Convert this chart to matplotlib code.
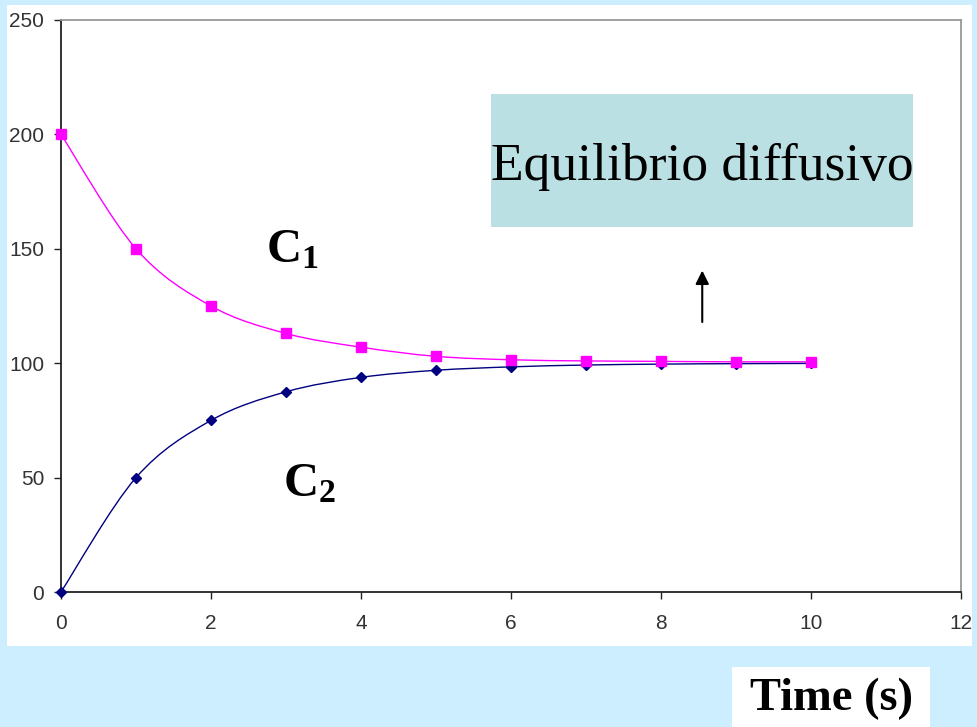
import matplotlib
matplotlib.use('Agg')
import matplotlib.pyplot as plt
from matplotlib.path import Path
from matplotlib.patches import PathPatch, Rectangle
import numpy as np

plt.rcParams['mathtext.fontset'] = 'custom'
plt.rcParams['mathtext.rm'] = 'Liberation Serif'
plt.rcParams['mathtext.bf'] = 'Liberation Serif:bold'

# data
time_s = [0, 1, 2, 3, 4, 5, 6, 7, 8, 9, 10]
c1 = [200, 150, 125, 113, 107, 103, 101.5, 101, 100.8, 100.6, 100.6]
c2 = [0, 50, 75, 87.5, 93.8, 96.9, 98.4, 99.2, 99.6, 99.8, 99.9]
xticks = [0, 2, 4, 6, 8, 10, 12]
yticks = [0, 50, 100, 150, 200, 250]

bg = '#cdeeff'
pink = '#ff00ff'
navy = '#000080'


def smooth_path(x, y):
    # Excel-like smoothed line: Catmull-Rom segments as cubic Bezier
    x = np.asarray(x, float)
    y = np.asarray(y, float)
    px = np.concatenate([[x[0]], x, [x[-1]]])
    py = np.concatenate([[y[0]], y, [y[-1]]])
    verts = [(x[0], y[0])]
    codes = [Path.MOVETO]
    for i in range(1, len(px) - 2):
        c1p = (px[i] + (px[i + 1] - px[i - 1]) / 6, py[i] + (py[i + 1] - py[i - 1]) / 6)
        c2p = (px[i + 1] - (px[i + 2] - px[i]) / 6, py[i + 1] - (py[i + 2] - py[i]) / 6)
        verts += [c1p, c2p, (px[i + 1], py[i + 1])]
        codes += [Path.CURVE4] * 3
    return Path(verts, codes)


fig = plt.figure(figsize=(9.77, 7.27), dpi=100, facecolor=bg)
fig.patches.append(Rectangle((7 / 977, 1 - 646 / 727), 965 / 977, 641 / 727,
                             transform=fig.transFigure, facecolor='white',
                             edgecolor='none', zorder=-2))

ax = fig.add_axes([61 / 977, 1 - 592 / 727, 900 / 977, 572 / 727])
ax.set_facecolor('none')
ax.set_zorder(2)

ax.add_patch(PathPatch(smooth_path(time_s, c1), facecolor='none', edgecolor=pink, lw=1, zorder=3))
ax.add_patch(PathPatch(smooth_path(time_s, c2), facecolor='none', edgecolor=navy, lw=1, zorder=3))
ax.plot(time_s, c2, linestyle='none', marker='D', color=navy, markersize=5, zorder=4, clip_on=False)
ax.plot(time_s, c1, linestyle='none', marker='s', color=pink, markersize=7.5, zorder=5, clip_on=False)

ax.set_xlim(0, 12)
ax.set_ylim(0, 250)
ax.set_xticks(xticks)
ax.set_yticks(yticks)
ax.tick_params(axis='both', direction='out', length=5, width=1, color='#222222',
               labelsize=15, labelcolor='#333333')
ax.tick_params(axis='x', pad=11)
ax.tick_params(axis='y', pad=7)
for lab in ax.get_xticklabels() + ax.get_yticklabels():
    lab.set_family('Liberation Sans')

ax.spines['left'].set_color('#222222')
ax.spines['bottom'].set_color('#222222')
ax.spines['top'].set_color('#999999')
ax.spines['right'].set_color('#999999')
for s in ax.spines.values():
    s.set_linewidth(1.3)

# labels for the curves
ax.text(3.08, 150, r'$\mathbf{C_1}$', fontsize=35, ha='center', va='center',
        bbox=dict(facecolor='white', edgecolor='none', pad=8), zorder=6)
ax.text(3.31, 48, r'$\mathbf{C_2}$', fontsize=35, ha='center', va='center',
        bbox=dict(facecolor='white', edgecolor='none', pad=8), zorder=6)

# equilibrium box
fig.patches.append(Rectangle((491 / 977, 1 - 227 / 727), 422 / 977, 133 / 727,
                             transform=fig.transFigure, facecolor='#bbe0e3',
                             edgecolor='none', zorder=-1))
fig.text(702 / 977, 1 - 167 / 727, 'Equilibrio diffusivo', family='Liberation Serif',
         fontsize=38.5, ha='center', va='center', color='black', zorder=3)
ax.annotate('', xy=(8.55, 140.5), xytext=(8.55, 118),
            arrowprops=dict(arrowstyle='-|>', color='black', lw=1.5, mutation_scale=20,
                            shrinkA=0, shrinkB=0))

# axis title
fig.patches.append(Rectangle((732 / 977, 0), 198 / 977, 60 / 727,
                             transform=fig.transFigure, facecolor='white',
                             edgecolor='none', zorder=-1))
fig.text(831 / 977, 1 - 699 / 727, 'Time (s)', family='Liberation Serif', weight='bold',
         fontsize=33.5, ha='center', va='center', color='black', zorder=3)

fig.savefig('out.png', dpi=100, facecolor=bg)
